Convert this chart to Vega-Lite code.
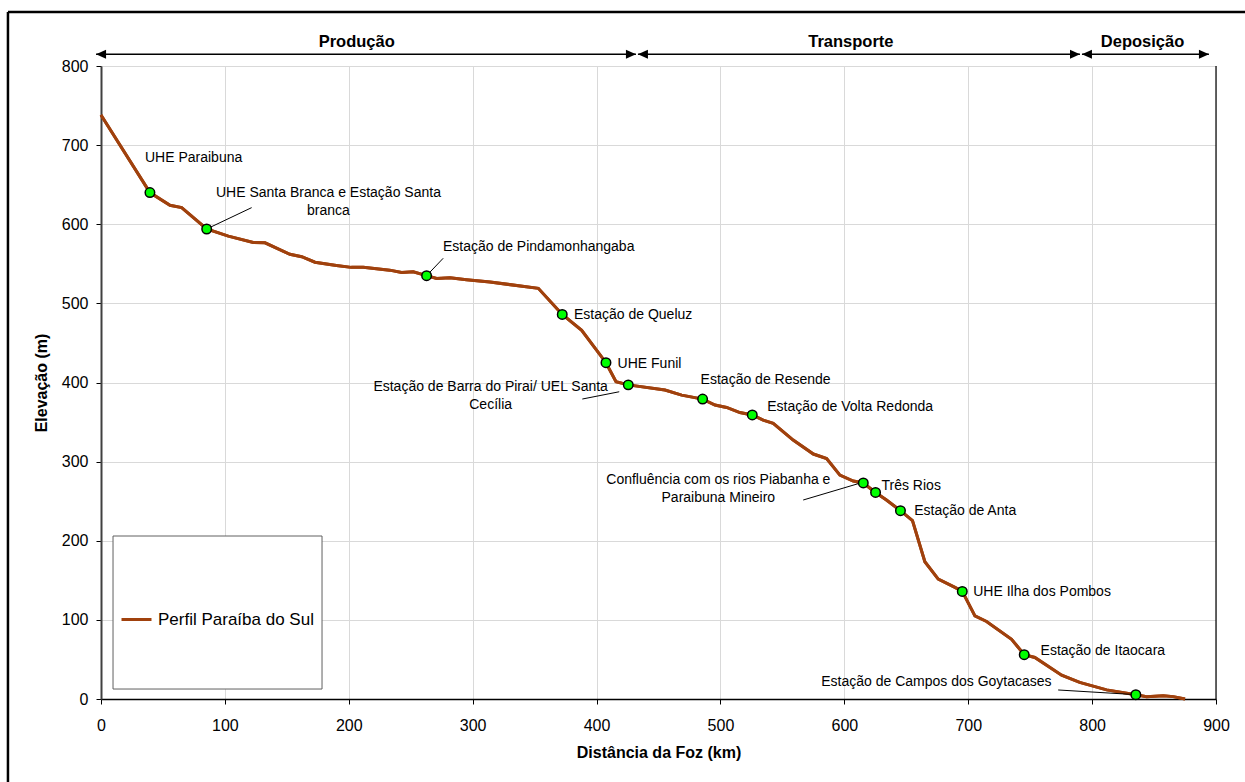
{
  "$schema": "https://vega.github.io/schema/vega-lite/v6.json",
  "width": 1115,
  "height": 633,
  "autosize": {"type": "none"},
  "padding": {"left": 101, "top": 66, "right": 29, "bottom": 83},
  "background": "white",
  "config": {
    "font": "Liberation Sans",
    "view": {"stroke": "#808080", "strokeWidth": 1},
    "axis": {
      "labelFont": "Liberation Sans",
      "labelFontSize": 16,
      "labelColor": "black",
      "labelFlush": false,
      "labelOverlap": false,
      "titleFont": "Liberation Sans",
      "titleFontSize": 16,
      "titleFontWeight": "bold",
      "titleColor": "black",
      "gridColor": "#d9d9d9",
      "gridWidth": 1,
      "tickSize": 5,
      "tickColor": "black",
      "domainColor": "black"
    }
  },
  "datasets": {
    "perfil": [
      {"km": 0, "elev": 738},
      {"km": 39.5, "elev": 640},
      {"km": 55.7, "elev": 624},
      {"km": 65.1, "elev": 621},
      {"km": 85.3, "elev": 594},
      {"km": 102.8, "elev": 585},
      {"km": 122.9, "elev": 577},
      {"km": 132.4, "elev": 576.5},
      {"km": 152.5, "elev": 562},
      {"km": 162, "elev": 559},
      {"km": 172.7, "elev": 552},
      {"km": 190, "elev": 548},
      {"km": 202, "elev": 545.5},
      {"km": 211.7, "elev": 545.5},
      {"km": 233, "elev": 542},
      {"km": 242.7, "elev": 539},
      {"km": 252, "elev": 540},
      {"km": 262.8, "elev": 535},
      {"km": 270.9, "elev": 531.5},
      {"km": 281.7, "elev": 532.5},
      {"km": 295, "elev": 530},
      {"km": 314, "elev": 527},
      {"km": 353, "elev": 519},
      {"km": 372.3, "elev": 486},
      {"km": 388, "elev": 466},
      {"km": 407.6, "elev": 425},
      {"km": 415.7, "elev": 401},
      {"km": 425.6, "elev": 397},
      {"km": 455.2, "elev": 390.5},
      {"km": 468.7, "elev": 384},
      {"km": 485.6, "elev": 379},
      {"km": 495.6, "elev": 371.5},
      {"km": 505, "elev": 368.5},
      {"km": 515.7, "elev": 362},
      {"km": 525.7, "elev": 359},
      {"km": 534.5, "elev": 352.5},
      {"km": 542.6, "elev": 348.5},
      {"km": 558.7, "elev": 327.3},
      {"km": 575, "elev": 309.6},
      {"km": 585.7, "elev": 304},
      {"km": 596.4, "elev": 283},
      {"km": 607.2, "elev": 275.5},
      {"km": 615.3, "elev": 273},
      {"km": 625.2, "elev": 261},
      {"km": 634, "elev": 251.5},
      {"km": 645.3, "elev": 238},
      {"km": 655, "elev": 225.5},
      {"km": 665, "elev": 173.5},
      {"km": 675.8, "elev": 151.5},
      {"km": 689.3, "elev": 141},
      {"km": 695.2, "elev": 136},
      {"km": 705.4, "elev": 105},
      {"km": 714.8, "elev": 98},
      {"km": 735, "elev": 75.5},
      {"km": 745.2, "elev": 56},
      {"km": 753.8, "elev": 52.5},
      {"km": 775.4, "elev": 30},
      {"km": 790, "elev": 21},
      {"km": 811.7, "elev": 11.5},
      {"km": 835.3, "elev": 5.5},
      {"km": 844, "elev": 3},
      {"km": 857.4, "elev": 4.2},
      {"km": 865.5, "elev": 3},
      {"km": 875, "elev": 0}
    ],
    "estacoes": [
      {"nome": "UHE Paraibuna", "km": 39.5, "elev": 640},
      {"nome": "UHE Santa Branca e Estação Santa branca", "km": 85.3, "elev": 594},
      {"nome": "Estação de Pindamonhangaba", "km": 262.8, "elev": 535},
      {"nome": "Estação de Queluz", "km": 372.3, "elev": 486},
      {"nome": "UHE Funil", "km": 407.6, "elev": 425},
      {"nome": "Estação de Barra do Pirai/ UEL Santa Cecília", "km": 425.6, "elev": 397},
      {"nome": "Estação de Resende", "km": 485.6, "elev": 379},
      {"nome": "Estação de Volta Redonda", "km": 525.7, "elev": 359},
      {"nome": "Confluência com os rios Piabanha e Paraibuna Mineiro", "km": 615.3, "elev": 273},
      {"nome": "Três Rios", "km": 625.2, "elev": 261},
      {"nome": "Estação de Anta", "km": 645.3, "elev": 238},
      {"nome": "UHE Ilha dos Pombos", "km": 695.2, "elev": 136},
      {"nome": "Estação de Itaocara", "km": 745.2, "elev": 56},
      {"nome": "Estação de Campos dos Goytacases", "km": 835.3, "elev": 5.5}
    ],
    "guias": [
      {"km": 85.3, "elev": 594, "km2": 121.6, "elev2": 621},
      {"km": 262.8, "elev": 535, "km2": 276.2, "elev2": 557},
      {"km": 388.5, "elev": 379.1, "km2": 418.3, "elev2": 388.3},
      {"km": 566.8, "elev": 251.5, "km2": 613.9, "elev2": 273.4},
      {"km": 772.6, "elev": 11.4, "km2": 835.3, "elev2": 5.5}
    ],
    "rotulos_esquerda": [
      {"texto": "UHE Paraibuna", "km": 35.5, "elev": 683.7},
      {"texto": "Estação de Pindamonhangaba", "km": 276, "elev": 571},
      {"texto": "Estação de Queluz", "km": 381.8, "elev": 485.7},
      {"texto": "UHE Funil", "km": 417, "elev": 424},
      {"texto": "Estação de Resende", "km": 484, "elev": 403},
      {"texto": "Estação de Volta Redonda", "km": 537.8, "elev": 368.6},
      {"texto": "Três Rios", "km": 630, "elev": 269.6},
      {"texto": "Estação de Anta", "km": 656.4, "elev": 237.6},
      {"texto": "UHE Ilha dos Pombos", "km": 704, "elev": 135.6},
      {"texto": "Estação de Itaocara", "km": 758.4, "elev": 61}
    ],
    "rotulos_centro": [
      {"texto": "UHE Santa Branca e Estação Santa\nbranca", "km": 183.6, "elev": 639.1},
      {"texto": "Estação de Barra do Pirai/ UEL Santa\nCecília", "km": 314.5, "elev": 394.7},
      {"texto": "Confluência com os rios Piabanha e\nParaibuna Mineiro", "km": 498.3, "elev": 276.8}
    ],
    "rotulos_direita": [
      {"texto": "Estação de Campos dos Goytacases", "km": 767.3, "elev": 21.1}
    ],
    "fases": [
      {"fase": "Produção", "inicio": -4, "fim": 431.8, "centro": 206.4},
      {"fase": "Transporte", "inicio": 433.4, "fim": 790.2, "centro": 605.3},
      {"fase": "Deposição", "inicio": 791.8, "fim": 894.3, "centro": 840.7}
    ]
  },
  "layer": [
    {
      "data": {"name": "perfil"},
      "mark": {"type": "line", "strokeWidth": 3},
      "encoding": {
        "x": {
          "field": "km", "type": "quantitative",
          "scale": {"domain": [0, 900], "nice": false},
          "axis": {"title": "Distância da Foz (km)", "values": [0, 100, 200, 300, 400, 500, 600, 700, 800, 900], "labelPadding": 13, "titlePadding": 11, "domainWidth": 1.5}
        },
        "y": {
          "field": "elev", "type": "quantitative",
          "scale": {"domain": [0, 800], "nice": false},
          "axis": {"title": "Elevação (m)", "values": [0, 100, 200, 300, 400, 500, 600, 700, 800], "labelPadding": 8, "titlePadding": 12, "domainColor": "#404040", "domainWidth": 2}
        },
        "color": {
          "datum": "Perfil Paraíba do Sul", "type": "nominal",
          "scale": {"range": ["#A0410D"]},
          "legend": {
            "orient": "none", "legendX": 19, "legendY": 537, "title": null,
            "padding": 0, "symbolType": "stroke", "symbolSize": 900, "symbolStrokeWidth": 3,
            "labelFont": "Liberation Sans", "labelFontSize": 17, "labelColor": "black",
            "labelOffset": 5, "labelLimit": 400
          }
        }
      }
    },
    {
      "description": "outer frame, left edge",
      "data": {"values": [{}]},
      "mark": {"type": "rule", "color": "black", "strokeWidth": 2.5, "clip": false},
      "encoding": {
        "x": {"datum": -75.1, "type": "quantitative"},
        "y": {"datum": -120, "type": "quantitative"},
        "y2": {"datum": 868.2}
      }
    },
    {
      "description": "outer frame, top edge",
      "data": {"values": [{}]},
      "mark": {"type": "rule", "color": "black", "strokeWidth": 2.5, "clip": false},
      "encoding": {
        "x": {"datum": -75.1, "type": "quantitative"},
        "x2": {"datum": 1000},
        "y": {"datum": 868.2, "type": "quantitative"}
      }
    },
    {
      "description": "legend box",
      "data": {"values": [{}]},
      "mark": {"type": "rect", "fill": "white", "stroke": "#606060", "strokeWidth": 1},
      "encoding": {
        "x": {"datum": 9.7, "type": "quantitative"},
        "x2": {"datum": 178.4},
        "y": {"datum": 206, "type": "quantitative"},
        "y2": {"datum": 12.6}
      }
    },
    {
      "description": "right edge of the plot area",
      "data": {"values": [{}]},
      "mark": {"type": "rule", "color": "black", "strokeWidth": 1.2},
      "encoding": {
        "x": {"datum": 900, "type": "quantitative"},
        "y": {"datum": 0, "type": "quantitative"},
        "y2": {"datum": 800}
      }
    },
    {
      "data": {"name": "perfil"},
      "mark": {"type": "line", "strokeWidth": 3, "color": "#A0410D"},
      "encoding": {
        "x": {"field": "km", "type": "quantitative"},
        "y": {"field": "elev", "type": "quantitative"}
      }
    },
    {
      "data": {"name": "guias"},
      "mark": {"type": "rule", "color": "black", "strokeWidth": 1},
      "encoding": {
        "x": {"field": "km", "type": "quantitative"},
        "x2": {"field": "km2"},
        "y": {"field": "elev", "type": "quantitative"},
        "y2": {"field": "elev2"}
      }
    },
    {
      "data": {"name": "estacoes"},
      "mark": {"type": "point", "shape": "circle", "filled": true, "fill": "#00FF00", "stroke": "black", "strokeWidth": 1.5, "size": 90, "opacity": 1},
      "encoding": {
        "x": {"field": "km", "type": "quantitative"},
        "y": {"field": "elev", "type": "quantitative"}
      }
    },
    {
      "data": {"name": "rotulos_esquerda"},
      "mark": {"type": "text", "align": "left", "baseline": "middle", "fontSize": 14, "font": "Liberation Sans", "color": "black"},
      "encoding": {
        "x": {"field": "km", "type": "quantitative"},
        "y": {"field": "elev", "type": "quantitative"},
        "text": {"field": "texto"}
      }
    },
    {
      "data": {"name": "rotulos_centro"},
      "mark": {"type": "text", "align": "center", "baseline": "middle", "fontSize": 14, "font": "Liberation Sans", "color": "black", "lineBreak": "\n", "lineHeight": 18},
      "encoding": {
        "x": {"field": "km", "type": "quantitative"},
        "y": {"field": "elev", "type": "quantitative"},
        "text": {"field": "texto"}
      }
    },
    {
      "data": {"name": "rotulos_direita"},
      "mark": {"type": "text", "align": "right", "baseline": "middle", "fontSize": 14, "font": "Liberation Sans", "color": "black"},
      "encoding": {
        "x": {"field": "km", "type": "quantitative"},
        "y": {"field": "elev", "type": "quantitative"},
        "text": {"field": "texto"}
      }
    },
    {
      "description": "phase arrows above the plot",
      "data": {"name": "fases"},
      "mark": {"type": "rule", "color": "black", "strokeWidth": 1.5, "clip": false},
      "encoding": {
        "x": {"field": "inicio", "type": "quantitative"},
        "x2": {"field": "fim"},
        "y": {"datum": 815, "type": "quantitative"}
      }
    },
    {
      "data": {"name": "fases"},
      "mark": {"type": "point", "shape": "M0,0L2,-0.9L2,0.9Z", "filled": true, "color": "black", "size": 100, "opacity": 1, "clip": false},
      "encoding": {
        "x": {"field": "inicio", "type": "quantitative"},
        "y": {"datum": 815, "type": "quantitative"}
      }
    },
    {
      "data": {"name": "fases"},
      "mark": {"type": "point", "shape": "M0,0L-2,-0.9L-2,0.9Z", "filled": true, "color": "black", "size": 100, "opacity": 1, "clip": false},
      "encoding": {
        "x": {"field": "fim", "type": "quantitative"},
        "y": {"datum": 815, "type": "quantitative"}
      }
    },
    {
      "data": {"name": "fases"},
      "mark": {"type": "text", "align": "center", "baseline": "middle", "fontSize": 16.5, "fontWeight": "bold", "font": "Liberation Sans", "color": "black", "clip": false},
      "encoding": {
        "x": {"field": "centro", "type": "quantitative"},
        "y": {"datum": 830.3, "type": "quantitative"},
        "text": {"field": "fase"}
      }
    }
  ]
}
